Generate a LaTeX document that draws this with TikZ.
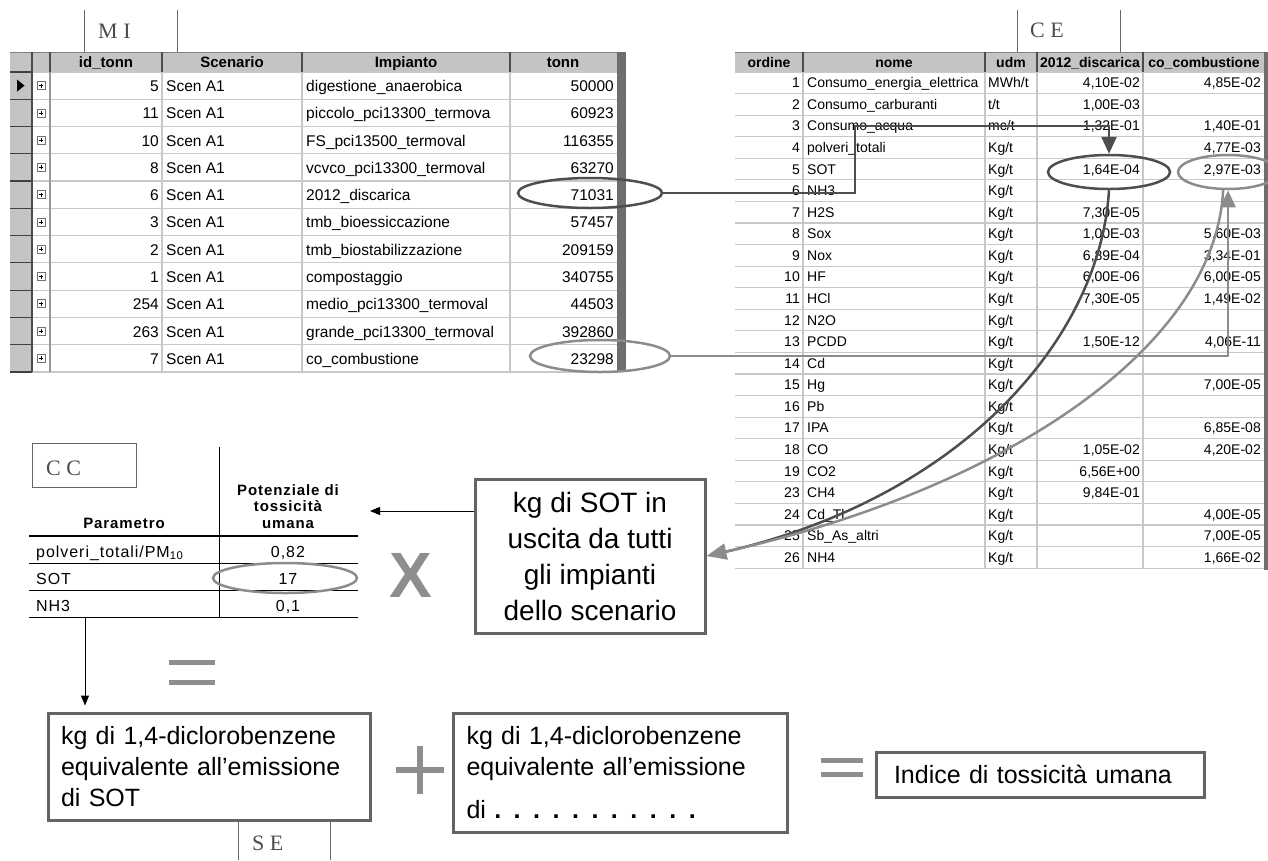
\documentclass[tikz,border=0pt]{standalone}
\usepackage{fontspec}
\setmainfont{Liberation Sans}
\newfontfamily\tagfont{Liberation Serif}
\newfontfamily\ccfont{Liberation Sans}[LetterSpace=6]
\usetikzlibrary{shapes.geometric,arrows.meta,positioning}
\definecolor{hdrgray}{HTML}{C4C4C4}
\definecolor{gridgray}{HTML}{C8C8C8}
\definecolor{bargray}{HTML}{6E6E6E}
\definecolor{darkmark}{HTML}{4E4E4E}
\definecolor{lightmark}{HTML}{8C8C8C}
\definecolor{boxgray}{HTML}{646464}
\definecolor{signgray}{HTML}{8E8E8E}
\newcommand{\miRow}{27.27}
\newcommand{\ceRow}{21.57}
\tikzset
{
	mitext/.style = {inner sep=0pt, font=\fontsize{15.5}{18}\selectfont},
	mihead/.style = {inner sep=0pt, anchor=base, font=\fontsize{15}{18}\selectfont\bfseries},
	cetext/.style = {inner sep=0pt, font=\fontsize{14}{16}\selectfont},
	cehead/.style = {inner sep=0pt, anchor=base, font=\fontsize{14}{16}\selectfont\bfseries},
	cctext/.style = {inner sep=0pt, font=\fontsize{16}{18}\selectfont\ccfont},
	cchead/.style = {inner sep=0pt, align=center, font=\fontsize{15}{16.5}\selectfont\ccfont\bfseries},
	tagtext/.style = {inner sep=0pt, text=black!70, font=\fontsize{22}{24}\selectfont\tagfont},
	marker/.style = {ellipse, draw, line width=2.5pt, inner sep=0pt},
	resultbox/.style = {draw=boxgray, line width=3pt, inner ysep=0pt},
	bigsign/.style = {signgray, line width=5pt},
	bigtip/.style = {-{Triangle[length=17pt,width=15pt]}},
	smalltip/.style = {-{Triangle[length=10pt,width=8pt]}}
}
\begin{document}
\begin{tikzpicture}[x=1pt, y=-1pt]
\useasboundingbox (0,0) rectangle (1268,860);
\clip (0,0) rectangle (1268,860);

% table M I
\fill[hdrgray] (10,52) rectangle (617,72);
\fill[hdrgray] (10,72) rectangle (32,372);
\draw[black!50, line width=0.8pt] (10,52) -- (617,52);
\foreach \i in {0,...,11}
{
	\draw[gridgray, line width=1.2pt] (32,{72+\miRow*\i}) -- (617,{72+\miRow*\i});
	\draw[black!75, line width=1.2pt] (10,{72+\miRow*\i}) -- (32,{72+\miRow*\i});
}
\foreach \x in {162,302,510}
{
	\draw[black!70, line width=1.2pt] (\x,52) -- (\x,72);
	\draw[gridgray, line width=1.2pt] (\x,72) -- (\x,372);
}
\draw[black!70, line width=1.2pt] (32,52) -- (32,372);
\draw[black!70, line width=1.2pt] (50,52) -- (50,72);
\draw[black!40, line width=1.2pt] (50,72) -- (50,372);
\fill[bargray] (617,52) rectangle (626,372);
\fill (17,79.5) -- (24.5,85.6) -- (17,91.7) -- cycle;

\node[mihead] (mi-h1) at (106,67) {id\_tonn};
\node[mihead] (mi-h2) at (232,67) {Scenario};
\node[mihead] (mi-h3) at (406,67) {Impianto};
\node[mihead] (mi-h4) at (563,67) {tonn};

\foreach \id/\imp/\t [count=\i] in {5/digestione\_anaerobica/50000, 11/piccolo\_pci13300\_termova/60923, 10/FS\_pci13500\_termoval/116355, 8/vcvco\_pci13300\_termoval/63270, 6/2012\_discarica/71031, 3/tmb\_bioessiccazione/57457, 2/tmb\_biostabilizzazione/209159, 1/compostaggio/340755, 254/medio\_pci13300\_termoval/44503, 263/grande\_pci13300\_termoval/392860, 7/co\_combustione/23298}
{
	\pgfmathsetmacro\yc{72+\miRow*(\i-0.5)}
	\draw[black!55, line width=0.8pt] (37,\yc-4) rectangle (45,\yc+4);
	\draw[black, line width=0.8pt] (39,\yc) -- (43,\yc) (41,\yc-2) -- (41,\yc+2);
	\node[mitext, anchor=base east] (mi-id\i) at (159,\yc+6) {\id};
	\node[mitext, anchor=base west] (mi-sc\i) at (166,\yc+6) {Scen A1};
	\node[mitext, anchor=base west] (mi-im\i) at (306,\yc+6) {\imp};
	\node[mitext, anchor=base east] (mi-tn\i) at (614,\yc+6) {\t};
}

\draw[black!60, line width=1pt] (84,10) -- (84,52) (177,10) -- (177,52);
\node[tagtext, anchor=base west] (miTag) at (98,38) {M I};

% table C E
\fill[hdrgray] (735,52) rectangle (1265,72);
\draw[black!50, line width=0.8pt] (735,52) -- (1265,52);
\foreach \i in {0,...,23}
	\draw[gridgray, line width=1.2pt] (735,{72+\ceRow*\i}) -- (1265,{72+\ceRow*\i});
\foreach \x in {803,985,1037,1143}
{
	\draw[black!70, line width=1.2pt] (\x,52) -- (\x,72);
	\draw[gridgray, line width=1.2pt] (\x,72) -- (\x,568);
}
\fill[bargray] (1264,52) rectangle (1268,570);

\node[cehead] (ce-h1) at (769,67) {ordine};
\node[cehead] (ce-h2) at (894,67) {nome};
\node[cehead] (ce-h3) at (1011,67) {udm};
\node[cehead] (ce-h4) at (1090,67) {2012\_discarica};
\node[cehead] (ce-h5) at (1204,67) {co\_combustione};

\foreach \n/\nm [count=\i] in {1/Consumo\_energia\_elettrica, 2/Consumo\_carburanti, 3/Consumo\_acqua, 4/polveri\_totali, 5/SOT, 6/NH3, 7/H2S, 8/Sox, 9/Nox, 10/HF, 11/HCl, 12/N2O, 13/PCDD, 14/Cd, 15/Hg, 16/Pb, 17/IPA, 18/CO, 19/CO2, 23/CH4, 24/Cd\_Tl, 25/Sb\_As\_altri, 26/NH4}
{
	\pgfmathsetmacro\yc{72+\ceRow*(\i-0.5)}
	\node[cetext, anchor=base east] (ce-or\i) at (800,\yc+5) {\n};
	\node[cetext, anchor=base west] (ce-nm\i) at (807,\yc+5) {\nm};
}
\foreach \u [count=\i] in {MWh/t, t/t, mc/t}
	\node[cetext, anchor=base west] (ce-u\i) at (988,{72+\ceRow*(\i-0.5)+5}) {\u};
\foreach \i in {4,...,23}
	\node[cetext, anchor=base west] (ce-u\i) at (988,{72+\ceRow*(\i-0.5)+5}) {Kg/t};
\foreach \i/\v in {1/{4,10E-02}, 2/{1,00E-03}, 3/{1,32E-01}, 5/{1,64E-04}, 7/{7,30E-05}, 8/{1,00E-03}, 9/{6,89E-04}, 10/{6,00E-06}, 11/{7,30E-05}, 13/{1,50E-12}, 18/{1,05E-02}, 19/{6,56E+00}, 20/{9,84E-01}}
	\node[cetext, anchor=base east] (ce-d\i) at (1140,{72+\ceRow*(\i-0.5)+5}) {\v};
\foreach \i/\v in {1/{4,85E-02}, 3/{1,40E-01}, 4/{4,77E-03}, 5/{2,97E-03}, 8/{5,60E-03}, 9/{3,34E-01}, 10/{6,00E-05}, 11/{1,49E-02}, 13/{4,06E-11}, 15/{7,00E-05}, 17/{6,85E-08}, 18/{4,20E-02}, 21/{4,00E-05}, 22/{7,00E-05}, 23/{1,66E-02}}
	\node[cetext, anchor=base east] (ce-c\i) at (1261,{72+\ceRow*(\i-0.5)+5}) {\v};

\draw[black!60, line width=1pt] (1017,10) -- (1017,52) (1120,10) -- (1120,52);
\node[tagtext, anchor=base west] (ceTag) at (1030,37) {C E};

% table C C
\node[draw=black!60, line width=1pt, minimum width=104pt, minimum height=44pt, inner sep=0pt] (ccTag) at (84,465) {};
\node[tagtext, anchor=base west] (ccTagText) at (46,475) {C C};
\draw[line width=1pt] (219,447) -- (219,617);
\draw[line width=2.5pt] (29,536) -- (358,536);
\foreach \y in {563,590,617}
	\draw[line width=1pt] (29,\y) -- (358,\y);
\node[cchead, anchor=base] (cc-h1) at (124,528) {Parametro};
\node[cchead, anchor=base] (cc-h2) at (288,495) {Potenziale di};
\node[cchead, anchor=base] (cc-h3) at (288,511) {tossicità};
\node[cchead, anchor=base] (cc-h4) at (288,528) {umana};
\foreach \p/\v [count=\i] in {{polveri\_totali/PM\textsubscript{10}}/{0,82}, SOT/17, NH3/{0,1}}
{
	\node[cctext, anchor=base west] (cc-p\i) at (36,{530+27*\i}) {\p};
	\node[cctext, anchor=base] (cc-v\i) at (288,{530+27*\i}) {\v};
}

% markers and connectors
\node[marker, darkmark, minimum width=144pt, minimum height=30pt] (ovDisc) at (590,193) {};
\node[marker, lightmark, minimum width=140pt, minimum height=32pt] (ovCom) at (600,356) {};
\node[marker, darkmark, minimum width=122pt, minimum height=34pt] (ovSotD) at (1109,172) {};
\node[marker, lightmark, minimum width=100pt, minimum height=34pt] (ovSotC) at (1228,172) {};
\node[marker, lightmark, minimum width=144pt, minimum height=30pt] (ovTox) at (285,578) {};

\coordinate (bendA) at (855,193);
\coordinate (bendB) at (855,126);
\coordinate (bendC) at (1228,356);
\draw[darkmark, line width=2.5pt, bigtip] (ovDisc.east) -- (bendA) -- (bendB) -| (ovSotD.north);
\draw[lightmark, line width=2.5pt, bigtip] (ovCom.east) -- (bendC) -- (ovSotC.south);

\node[resultbox, minimum width=230pt, minimum height=154pt, align=center, font=\fontsize{28}{36}\selectfont] (kgSot) at (590,556) {kg di SOT in\\uscita da tutti\\gli impianti\\dello scenario};

\draw[darkmark, line width=2.5pt, shorten >=12pt] (ovSotD.south) .. controls (1100,340) and (960,500) .. (kgSot.east);
\draw[lightmark, line width=2.5pt, -{Triangle[length=20pt,width=16pt]}] (ovSotC.255) .. controls (1215,350) and (1000,490) .. (kgSot.east);

\coordinate (ccIn) at (370,511);
\draw[line width=1pt, smalltip] (kgSot.west |- ccIn) -- (ccIn);
\node[text=signgray, inner sep=0pt, font=\fontsize{64}{64}\selectfont\bfseries] (times) at (411,575) {X};

% results
\node[resultbox, text width=296pt, inner xsep=13pt, minimum height=107pt, align=left, font=\fontsize{25}{31}\selectfont] (eqSot) at (209,766.5) {kg di 1,4-diclorobenzene\\equivalente all’emissione\\di SOT};
\node[resultbox, text width=308pt, inner xsep=13pt, minimum height=119pt, align=left, font=\fontsize{25}{31}\selectfont] (eqOther) at (620.5,772.5) {kg di 1,4-diclorobenzene\\equivalente all’emissione\\[12pt]di {\bfseries . . . . . . . . . . .}};
\node[resultbox, text width=292pt, inner xsep=18pt, minimum height=45pt, align=left, font=\fontsize{25}{30}\selectfont] (idx) at (1040,774.5) {Indice di tossicità umana};

\coordinate (ccOut) at (85,617);
\draw[line width=1pt, smalltip, shorten >=6pt] (ccOut) -- (ccOut |- eqSot.north);

\draw[bigsign] (169,662) -- (215,662) (169,682) -- (215,682);
\draw[bigsign, line width=6pt] (396,770) -- (444,770) (420,746) -- (420,794);
\draw[bigsign] (821,760) -- (863,760) (821,774) -- (863,774);

\draw[black!60, line width=1pt] (238,820) -- (238,860) (330,820) -- (330,860);
\node[tagtext, anchor=base west] (seTag) at (252,850) {S E};
\end{tikzpicture}
\end{document}
